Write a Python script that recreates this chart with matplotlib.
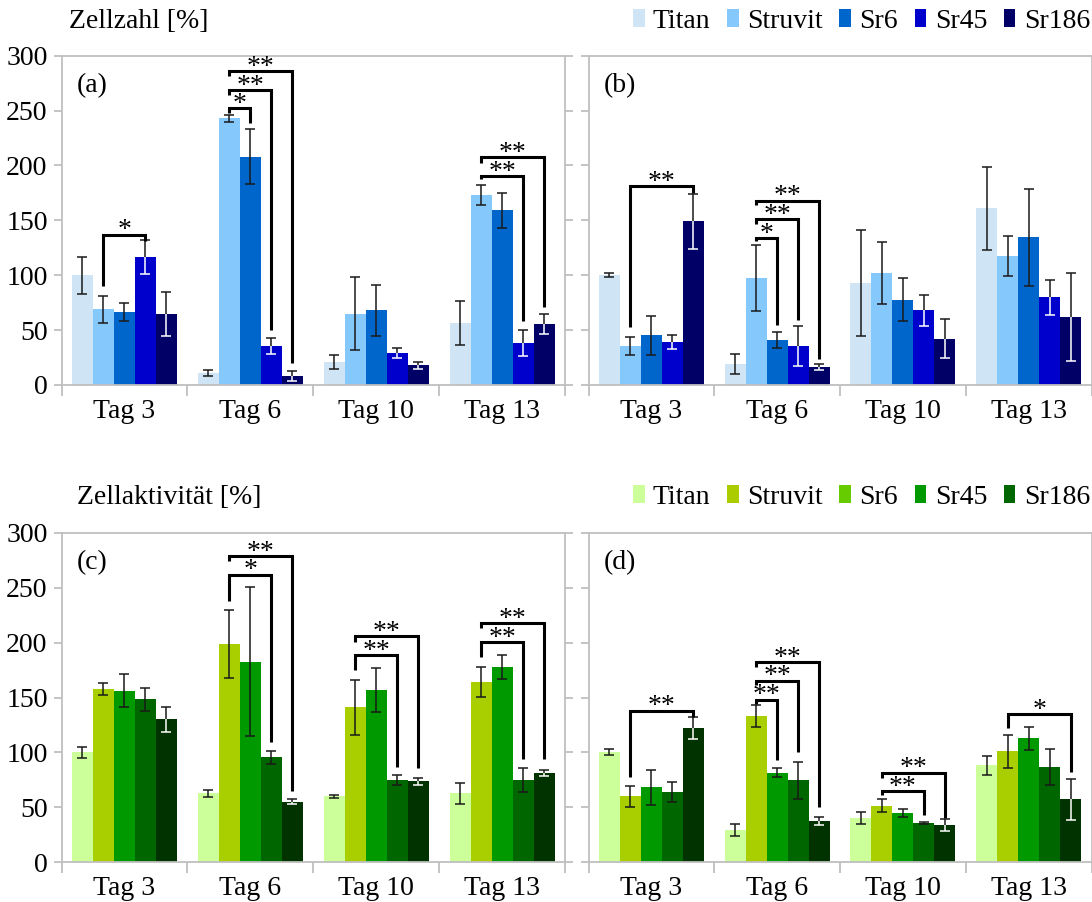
import numpy as np
import matplotlib.pyplot as plt
from matplotlib.patches import Patch

plt.rcParams["font.family"] = ["Liberation Serif", "DejaVu Serif"]

### Data
days = ["Tag 3", "Tag 6", "Tag 10", "Tag 13"]
materials = ["Titan", "Struvit", "Sr6", "Sr45", "Sr186"]

# Zellzahl [%], panel (a) - one row per material, one column per day
a_mean = [[100, 11, 21, 56.5], [69, 243, 65, 173], [66.5, 208, 68, 159],
          [116.5, 35.5, 29, 38], [65, 8, 18, 55.5]]
a_err = [[17, 2.6, 6, 20], [12.5, 3, 33.5, 9], [8, 25, 23, 16],
         [15.5, 7, 4.5, 12], [20, 4.5, 3, 9]]

# Zellzahl [%], panel (b)
b_mean = [[100, 19, 93, 161], [35.5, 97.5, 102, 117.5], [45.5, 41, 77.5, 134.5],
          [39, 35.5, 68, 80], [149, 16, 42, 62]]
b_err = [[1.8, 9, 48.5, 38], [8.5, 30, 28.5, 17.8], [17.8, 7, 19.6, 44.3],
         [6.5, 17.8, 13.8, 16], [25, 2.7, 17.8, 40]]

# Zellaktivitaet [%], panel (c)
c_mean = [[100, 62.5, 60, 62.5], [157.5, 198.5, 141, 164], [156, 182.5, 157, 178],
          [148.5, 95.5, 74.5, 74.5], [130, 55, 73.5, 81.5]]
c_err = [[5, 3.5, 1.4, 9.3], [5.5, 31, 25, 13.4], [15, 68, 20, 11],
         [10.6, 5.8, 4.6, 11], [11.6, 2, 3, 2.7]]

# Zellaktivitaet [%], panel (d)
d_mean = [[100, 29, 40, 88], [60, 133, 51.5, 101], [68, 81.5, 45, 113],
          [63.5, 74.5, 35.3, 86.5], [122.5, 37.7, 33.5, 57]]
d_err = [[2.6, 5.5, 5.3, 8.8], [9.5, 10, 5.6, 15], [16.3, 4, 3.6, 10.5],
         [9, 17, 0.8, 16.7], [10, 3.7, 5.6, 18.4]]

# significance brackets: (day, from material, to material, top, left end, right end, label)
a_sig = [(0, 1, 3, 137, 90, 131.5, "*"),
         (1, 1, 2, 252, 247.5, 239, "*"),
         (1, 1, 3, 269, 264.5, 50, "**"),
         (1, 1, 4, 286, 281.5, 20, "**"),
         (3, 1, 3, 190, 187.5, 58, "**"),
         (3, 1, 4, 207.5, 202.5, 71, "**")]
b_sig = [(0, 1, 4, 181, 52.5, 174.5, "**"),
         (1, 1, 2, 133.5, 131.5, 54.5, "*"),
         (1, 1, 3, 151, 146.5, 59, "**"),
         (1, 1, 4, 168, 164, 24, "**")]
c_sig = [(1, 1, 3, 262, 238, 109, "*"),
         (1, 1, 4, 279, 274.5, 65, "**"),
         (2, 1, 3, 189, 175, 87, "**"),
         (2, 1, 4, 206, 201, 86, "**"),
         (3, 1, 3, 200.5, 187, 93.5, "**"),
         (3, 1, 4, 217.5, 213, 93.5, "**")]
d_sig = [(0, 1, 4, 138, 77.5, 132, "**"),
         (1, 1, 2, 148, 144, 93, "**"),
         (1, 1, 3, 165.5, 161.5, 100.5, "**"),
         (1, 1, 4, 182.5, 178, 50, "**"),
         (2, 1, 3, 64.5, 61, 42.5, "**"),
         (2, 1, 4, 81.5, 77, 40, "**"),
         (3, 1, 4, 134.5, 122, 82, "*")]

### Styles
blue_colors = ["#cfe4f4", "#85c8fb", "#0066cc", "#0000cc", "#000066"]
green_colors = ["#ccff99", "#aacf00", "#009900", "#006600", "#003300"]
green_legend_colors = ["#ccff99", "#aacc00", "#66cc00", "#009900", "#006600"]
# colour of the lower half of the error bar (inside the bar)
blue_lower = ["#1a1a1a", "#1a1a1a", "#1a1a1a", "white", "white"]
green_lower = ["#1a1a1a", "#1a1a1a", "#1a1a1a", "#1a1a1a", "white"]
spine_color = "#bfbfbf"
bar_width = 1 / 6
fs = 20

W, H = 1092, 902
fig = plt.figure(figsize=(W / 100, H / 100), dpi=100)


def px_axes(x0, y0, x1, y1):
    # axes from pixel box (left, top, right, bottom)
    return fig.add_axes([x0 / W, 1 - y1 / H, (x1 - x0) / W, (y1 - y0) / H])


def draw_panel(ax, mean, err, colors, lower, sig, letter, left_labels):
    x_base = np.arange(len(days))
    for j, name in enumerate(materials):
        x = x_base + (j - 2) * bar_width
        m = np.array(mean[j], dtype=float)
        e = np.array(err[j], dtype=float)
        ax.bar(x, m, width=bar_width, color=colors[j], linewidth=0, zorder=2)
        # upper half of error bar
        ax.vlines(x, m, m + e, color="#1a1a1a", lw=1.1, zorder=3)
        ax.plot(x, m + e, ls="none", marker="_", ms=6.5, mew=1.1, color="#1a1a1a", zorder=3)
        # lower half of error bar
        ax.vlines(x, m - e, m, color=lower[j], lw=1.1, zorder=3)
        ax.plot(x, m - e, ls="none", marker="_", ms=6.5, mew=1.1, color=lower[j], zorder=3)

    for day, s0, s1, top, l_end, r_end, label in sig:
        x0 = day + (s0 - 2) * bar_width
        x1 = day + (s1 - 2) * bar_width
        ax.plot([x0, x0, x1, x1], [l_end, top, top, r_end], color="k", lw=2.2,
                solid_joinstyle="miter", solid_capstyle="butt", zorder=5)
        ax.annotate(label, ((x0 + x1) / 2, top), xytext=(0, -2),
                    textcoords="offset points", ha="center", va="baseline",
                    fontsize=20, zorder=6)

    ax.text(0.031, 0.91, letter, transform=ax.transAxes, ha="left", va="center", fontsize=fs)

    ax.set_xlim(-0.5, len(days) - 0.5)
    ax.set_ylim(0, 300)
    ax.set_yticks(np.arange(0, 301, 50))
    ax.set_xticks(x_base, days)
    ax.set_xticks(np.arange(-0.5, len(days)), minor=True)
    ax.tick_params(axis="x", which="major", length=0, pad=10, labelsize=fs)
    ax.tick_params(axis="x", which="minor", length=8, width=1.3, color=spine_color, direction="out")
    ax.tick_params(axis="y", length=6, width=1.3, color=spine_color, direction="out",
                   labelsize=fs, pad=4, labelleft=left_labels, right=left_labels)
    for sp in ax.spines.values():
        sp.set_color(spine_color)
        sp.set_linewidth(1.3)


ax_a = px_axes(61.5, 55.7, 565, 385)
ax_b = px_axes(588.5, 55.7, 1091.5, 385)
ax_c = px_axes(61.5, 533, 565, 862)
ax_d = px_axes(588.5, 533, 1091.5, 862)

draw_panel(ax_a, a_mean, a_err, blue_colors, blue_lower, a_sig, "(a)", True)
draw_panel(ax_b, b_mean, b_err, blue_colors, blue_lower, b_sig, "(b)", False)
draw_panel(ax_c, c_mean, c_err, green_colors, green_lower, c_sig, "(c)", True)
draw_panel(ax_d, d_mean, d_err, green_colors, green_lower, d_sig, "(d)", False)

# headings
fig.text(69 / W, 1 - 21 / H, "Zellzahl [%]", ha="left", va="center", fontsize=fs)
fig.text(77 / W, 1 - 497 / H, "Zellaktivität [%]", ha="left", va="center", fontsize=fs)

# legends
for colors, y in [(blue_colors, 21), (green_legend_colors, 497)]:
    handles = [Patch(facecolor=c, edgecolor="none", label=n) for c, n in zip(colors, materials)]
    fig.legend(handles=handles, loc="center right", bbox_to_anchor=(1090 / W, 1 - y / H),
               ncol=5, frameon=False, fontsize=fs, handlelength=0.42, handleheight=0.6,
               handletextpad=0.3, columnspacing=0.6, borderpad=0, borderaxespad=0)

fig.savefig("out.png", dpi=100)
